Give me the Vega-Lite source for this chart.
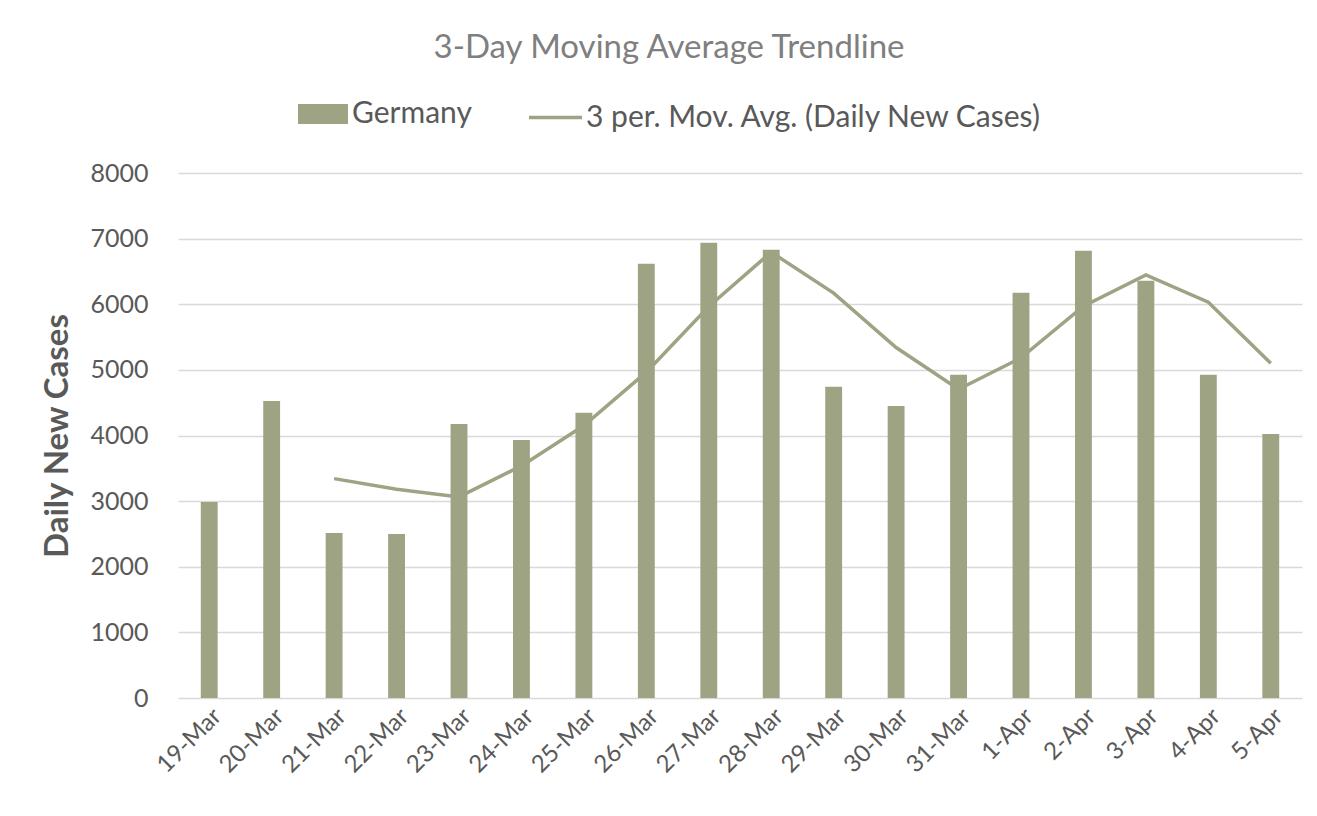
{
  "$schema": "https://vega.github.io/schema/vega-lite/v6.json",
  "width": 1124,
  "height": 525,
  "autosize": {"type": "none"},
  "padding": {"left": 178, "top": 173, "right": 15, "bottom": 118},
  "background": "white",
  "title": {
    "text": "3-Day Moving Average Trendline",
    "font": "Lato",
    "fontSize": 33,
    "fontWeight": "normal",
    "color": "#7F7F7F",
    "anchor": "middle",
    "dx": -71,
    "offset": 24
  },
  "config": {
    "view": {"stroke": null},
    "font": "Lato",
    "axis": {
      "labelFont": "Lato",
      "labelColor": "#595959",
      "titleColor": "#595959",
      "gridColor": "#D9D9D9",
      "gridWidth": 1.5,
      "domain": false,
      "ticks": false
    },
    "legend": {"padding": 0, "labelFont": "Lato", "labelColor": "#595959", "labelFontSize": 30, "labelLimit": 800}
  },
  "data": {
    "values": [
      {"date": "19-Mar", "cases": 2988, "avg": null},
      {"date": "20-Mar", "cases": 4527, "avg": null},
      {"date": "21-Mar", "cases": 2515, "avg": 3343},
      {"date": "22-Mar", "cases": 2500, "avg": 3181},
      {"date": "23-Mar", "cases": 4177, "avg": 3064},
      {"date": "24-Mar", "cases": 3933, "avg": 3537},
      {"date": "25-Mar", "cases": 4345, "avg": 4152},
      {"date": "26-Mar", "cases": 6616, "avg": 4965},
      {"date": "27-Mar", "cases": 6936, "avg": 5966},
      {"date": "28-Mar", "cases": 6829, "avg": 6794},
      {"date": "29-Mar", "cases": 4741, "avg": 6169},
      {"date": "30-Mar", "cases": 4451, "avg": 5340},
      {"date": "31-Mar", "cases": 4924, "avg": 4705},
      {"date": "1-Apr", "cases": 6174, "avg": 5183},
      {"date": "2-Apr", "cases": 6814, "avg": 5971},
      {"date": "3-Apr", "cases": 6357, "avg": 6448},
      {"date": "4-Apr", "cases": 4924, "avg": 6032},
      {"date": "5-Apr", "cases": 4024, "avg": 5102}
    ]
  },
  "encoding": {
    "x": {
      "field": "date",
      "type": "ordinal",
      "sort": null,
      "scale": {"paddingInner": 0.73, "paddingOuter": 0.365},
      "axis": {
        "title": null,
        "labelAngle": -45,
        "labelFontSize": 24,
        "labelPadding": 6,
        "grid": false
      }
    }
  },
  "layer": [
    {
      "mark": {"type": "bar"},
      "encoding": {
        "y": {
          "field": "cases",
          "type": "quantitative",
          "scale": {"domain": [0, 8000]},
          "axis": {
            "title": "Daily New Cases",
            "titleFontSize": 33,
            "titleFontWeight": "bold",
            "titlePadding": 15,
            "labelFontSize": 25,
            "labelPadding": 30,
            "values": [0, 1000, 2000, 3000, 4000, 5000, 6000, 7000, 8000],
            "format": "d",
            "grid": true
          }
        },
        "fill": {
          "datum": "Germany",
          "scale": {"range": ["#9EA383"]},
          "legend": {
            "title": null,
            "orient": "none",
            "legendX": 120,
            "legendY": -84,
            "symbolType": "M-1,-0.4H1V0.4H-1Z",
            "symbolSize": 2500,
            "symbolStrokeWidth": 0,
            "symbolOpacity": 1,
            "labelOffset": 4
          }
        }
      }
    },
    {
      "mark": {"type": "line", "strokeWidth": 3.5},
      "encoding": {
        "y": {"field": "avg", "type": "quantitative"},
        "stroke": {
          "datum": "3 per. Mov. Avg. (Daily New Cases)",
          "scale": {"range": ["#9EA383"]},
          "legend": {
            "title": null,
            "orient": "none",
            "legendX": 349,
            "legendY": -84,
            "symbolType": "stroke",
            "symbolSize": 2809,
            "symbolStrokeWidth": 3.5,
            "labelOffset": 2
          }
        }
      }
    }
  ]
}
